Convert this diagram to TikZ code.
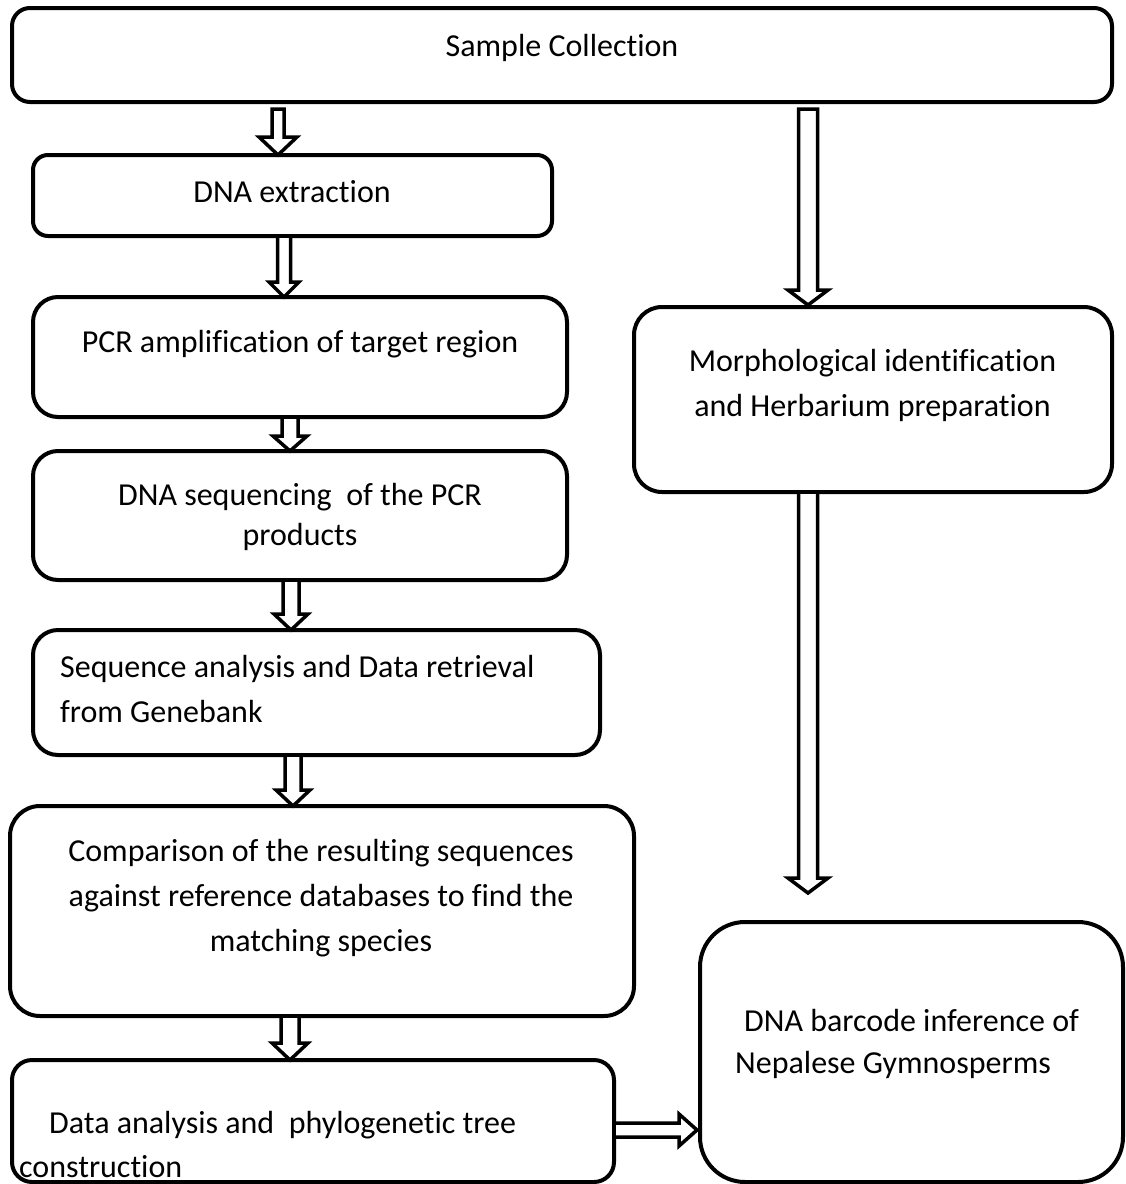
\documentclass[tikz,border=0pt]{standalone}
\usepackage{fontspec}
\setmainfont{Carlito}[Ligatures=NoCommon]
\usetikzlibrary{calc}
\tikzset{
  box/.style={draw, line width=4pt, rounded corners=#1, inner sep=0pt},
  box/.default=20pt,
  harrow/.style={draw, fill=white, line width=3.5pt, line join=miter},
  txt/.style={inner sep=0pt, font=\fontsize{32}{45}\selectfont},
}
% hollow block arrow pointing down: start, end, shaft half, head half, head length
\newcommand\hdown[5]{%
  \draw[harrow] let \p1=(#1), \p2=(#2) in
    (\x1-#3pt,\y1) -- (\x1+#3pt,\y1) -- (\x1+#3pt,\y2+#5pt) -- (\x1+#4pt,\y2+#5pt)
    -- (\x1,\y2) -- (\x1-#4pt,\y2+#5pt) -- (\x1-#3pt,\y2+#5pt) -- cycle;}
% hollow block arrow pointing right
\newcommand\hright[5]{%
  \draw[harrow] let \p1=(#1), \p2=(#2) in
    (\x1,\y1+#3pt) -- (\x1,\y1-#3pt) -- (\x2-#5pt,\y1-#3pt) -- (\x2-#5pt,\y1-#4pt)
    -- (\x2,\y1) -- (\x2-#5pt,\y1+#4pt) -- (\x2-#5pt,\y1+#3pt) -- cycle;}
\begin{document}
\begin{tikzpicture}[x=1pt,y=-1pt]
\fill[white] (0,0) rectangle (1126,1184);
\useasboundingbox (0,0) rectangle (1126,1184);

% boxes
\node[box=18pt, minimum width=1100pt, minimum height=94pt]  (sc)  at (562,55) {};
\node[box=15pt, minimum width=519pt,  minimum height=81pt]  (dna) at (292.5,195.5) {};
\node[box=25pt, minimum width=534pt,  minimum height=120pt] (pcr) at (300,357) {};
\node[box=25pt, minimum width=534pt,  minimum height=129pt] (seq) at (300,515.5) {};
\node[box=25pt, minimum width=567pt,  minimum height=125pt] (sa)  at (316.5,692.5) {};
\node[box=30pt, minimum width=624pt,  minimum height=210pt] (cmp) at (322,911) {};
\node[box=20pt, minimum width=602pt,  minimum height=122pt] (da)  at (313,1121) {};
\node[box=28pt, minimum width=478pt,  minimum height=185pt] (mor) at (873,399.5) {};
\node[box=45pt, minimum width=423pt,  minimum height=260pt] (bc)  at (911.5,1052) {};

% arrow end points
\coordinate (a1s) at (278,109);  \coordinate (a1e) at (278,155);
\coordinate (a2s) at (808,109);  \coordinate (a2e) at (808,305);
\coordinate (a3s) at (808,492);  \coordinate (a3e) at (808,893);
\coordinate (a4s) at (284,236);  \coordinate (a4e) at (284,297);
\coordinate (a5s) at (290,417);  \coordinate (a5e) at (290,451);
\coordinate (a6s) at (291,580);  \coordinate (a6e) at (291,630);
\coordinate (a7s) at (293,755);  \coordinate (a7e) at (293,806);
\coordinate (a8s) at (290,1016); \coordinate (a8e) at (290,1060);
\coordinate (a9s) at (614,1130); \coordinate (a9e) at (697,1130);

\hdown{a1s}{a1e}{6}{19}{18}
\hdown{a2s}{a2e}{9.5}{20}{15}
\hdown{a3s}{a3e}{9.5}{20}{15}
\hdown{a4s}{a4e}{6.5}{15}{15}
\hdown{a5s}{a5e}{8}{17}{15}
\hdown{a6s}{a6e}{8}{17}{16}
\hdown{a7s}{a7e}{8}{17}{16}
\hdown{a8s}{a8e}{9}{18}{17}
\hright{a9s}{a9e}{7}{16}{18}

% texts
\node[txt, anchor=north] (tsc) at (562,26) {\rule{0pt}{30pt}Sample Collection};
\node[txt, anchor=north] (tdna) at (292,172) {\rule{0pt}{30pt}DNA extraction};
\node[txt, anchor=north] (tpcr) at (300,322) {\rule{0pt}{30pt}PCR amplification of target region};
\node[txt, anchor=north, align=center, font=\fontsize{32}{40}\selectfont] (tseq) at (300,475)
  {\rule{0pt}{30pt}DNA sequencing\ \ of the PCR\\products};
\node[txt, anchor=north west, align=left] (tsa) at (60,647)
  {\rule{0pt}{30pt}Sequence analysis and Data retrieval\\from Genebank};
\node[txt, anchor=north, align=center] (tcmp) at (321,831)
  {\rule{0pt}{30pt}Comparison of the resulting sequences\\against reference databases to find the\\matching species};
\node[txt, anchor=north west, align=left, font=\fontsize{32}{44}\selectfont] (tda) at (19,1103)
  {\rule{0pt}{30pt}\hspace*{30pt}Data analysis and\ \ phylogenetic tree\\construction};
\node[txt, anchor=north, align=center] (tmor) at (872.5,341)
  {\rule{0pt}{30pt}Morphological identification\\and Herbarium preparation};
\node[txt, anchor=north west, align=left, font=\fontsize{32}{42}\selectfont] (tbc) at (735,1001)
  {\rule{0pt}{30pt}\hspace*{9pt}DNA barcode inference of\\Nepalese Gymnosperms};
\end{tikzpicture}
\end{document}
